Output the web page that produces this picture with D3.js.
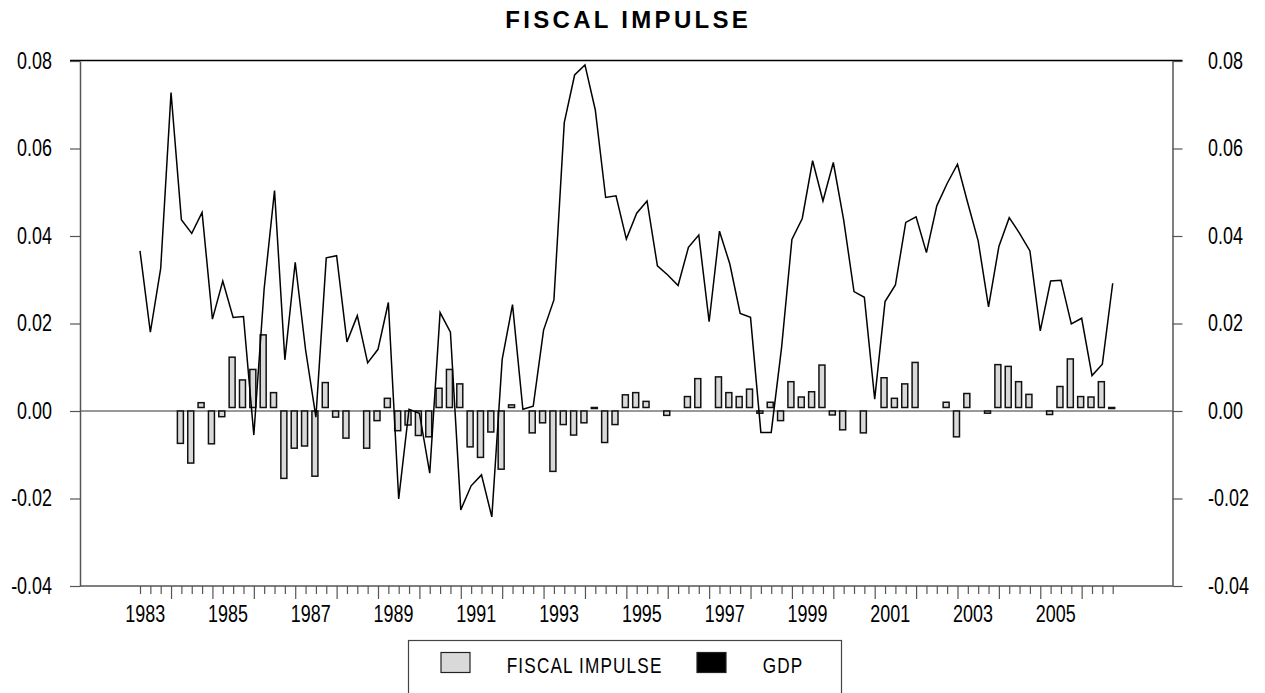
<!DOCTYPE html>
<html>
<head>
<meta charset="utf-8">
<script src="https://cdn.jsdelivr.net/npm/d3@7"></script>
<style>
  body { margin: 0; background: #fff; }
  svg { display: block; font-family: "Liberation Sans", Arial, sans-serif; }
</style>
</head>
<body>
<svg id="chart" width="1265" height="693"></svg>
<script>
// fiscal impulse (bars) against GDP (line), quarterly 1983Q1 - 2006Q3

var years = [1983, 1984, 1985, 1986, 1987, 1988, 1989, 1990, 1991, 1992, 1993, 1994,
  1995, 1996, 1997, 1998, 1999, 2000, 2001, 2002, 2003, 2004, 2005, 2006];
var labelYears = [1983, 1985, 1987, 1989, 1991, 1993, 1995, 1997, 1999, 2001, 2003, 2005];
var quarters = years.flatMap(function(y){ return ['Q1', 'Q2', 'Q3', 'Q4'].map(function(q){ return y + q; }); }).slice(0, 95);
var yTicks = [-0.04, -0.02, 0.00, 0.02, 0.04, 0.06, 0.08];

var gdp = [
  0.0366, 0.0180, 0.0326, 0.0728, 0.0437, 0.0406, 0.0454, 0.0210, 0.0297, 0.0214,
  0.0216, -0.0055, 0.0280, 0.0504, 0.0117, 0.0340, 0.0140, -0.0014, 0.0350, 0.0355,
  0.0158, 0.0218, 0.0110, 0.0141, 0.0248, -0.0201, 0.0004, -0.0005, -0.0142, 0.0225,
  0.0180, -0.0226, -0.0171, -0.0146, -0.0242, 0.0118, 0.0243, 0.0004, 0.0011, 0.0185,
  0.0254, 0.0659, 0.0768, 0.0791, 0.0688, 0.0488, 0.0492, 0.0393, 0.0452, 0.0480,
  0.0332, 0.0311, 0.0287, 0.0374, 0.0402, 0.0204, 0.0411, 0.0336, 0.0223, 0.0214,
  -0.0049, -0.0049, 0.0145, 0.0392, 0.0440, 0.0572, 0.0480, 0.0568, 0.0437, 0.0273,
  0.0260, 0.0027, 0.0250, 0.0288, 0.0431, 0.0444, 0.0362, 0.0469, 0.0520, 0.0564,
  0.0475, 0.0389, 0.0238, 0.0376, 0.0442, 0.0406, 0.0366, 0.0183, 0.0297, 0.0299,
  0.0199, 0.0212, 0.0081, 0.0107, 0.0292
];

var impulse = [
  null, null, null, null, -0.0074, -0.0119, 0.0019, -0.0075, -0.0013, 0.0123,
  0.0071, 0.0095, 0.0174, 0.0042, -0.0154, -0.0085, -0.0080, -0.0149, 0.0065, -0.0014,
  -0.0062, 0, -0.0085, -0.0022, 0.0029, -0.0045, -0.0032, -0.0056, -0.0059, 0.0052,
  0.0095, 0.0062, -0.0082, -0.0106, -0.0048, -0.0133, 0.0014, 0, -0.0050, -0.0027,
  -0.0138, -0.0031, -0.0055, -0.0027, 0.0008, -0.0072, -0.0031, 0.0037, 0.0042, 0.0022,
  0, -0.0010, 0, 0.0033, 0.0074, 0, 0.0078, 0.0042, 0.0033, 0.0050,
  -0.0005, 0.0020, -0.0022, 0.0067, 0.0032, 0.0044, 0.0105, -0.0009, -0.0043, 0,
  -0.0050, 0, 0.0076, 0.0029, 0.0062, 0.0111, 0, 0, 0.0020, -0.0059,
  0.0040, 0, -0.0005, 0.0106, 0.0102, 0.0067, 0.0038, 0, -0.0008, 0.0056,
  0.0119, 0.0033, 0.0032, 0.0067, 0.0008
];

(function(){
  var svg = d3.select('#chart');
  var plotLeft = 80, plotRight = 1172.5, plotTop = 61, plotBottom = 586;
  var squeeze = 0.78; // narrow glyphs like the original
  var font = '"Liberation Sans", Arial, sans-serif';
  var fmt = function(d){ return d3.format('.2f')(d).replace('\u2212', '-'); };

  var x = d3.scalePoint().domain(quarters).range([140, 1112.7]);
  var step = x.step();
  var xYear = d3.scaleBand().domain(years)
    .range([140 - 1.5 * step, 140 - 1.5 * step + years.length * 4 * step]);
  var y = d3.scaleLinear().domain([-0.04, 0.08]).range([plotBottom, plotTop]);

  var axisColor = '#555';

  // frame top
  svg.append('line')
    .attr('x1', plotLeft - 10).attr('x2', plotRight + 10)
    .attr('y1', plotTop - 0.5).attr('y2', plotTop - 0.5)
    .attr('stroke', '#000').attr('stroke-width', 1.5);

  // zero line
  svg.append('line')
    .attr('x1', plotLeft).attr('x2', plotRight).attr('y1', y(0)).attr('y2', y(0))
    .attr('stroke', '#333').attr('stroke-width', 1);

  // bars
  var bw = 6;
  svg.append('g').selectAll('rect')
    .data(quarters.map(function(q, i){ return {q: q, v: impulse[i]}; }).filter(function(d){ return d.v; }))
    .enter()
    .append('rect')
    .attr('x', function(d){ return x(d.q) - bw / 2 - 1; })
    .attr('y', function(d){ return d.v > 0 ? y(d.v) : y(0); })
    .attr('width', bw)
    .attr('height', function(d){
      return d.v > 0 ? Math.max(1, y(0) - 3.5 - y(d.v)) : Math.max(1, y(d.v) - y(0));
    })
    .attr('fill', '#d9d9d9')
    .attr('stroke', '#111')
    .attr('stroke-width', 1.5);

  // gdp line
  var line = d3.line()
    .x(function(d, i){ return x(quarters[i]); })
    .y(function(d){ return y(d); });
  svg.append('path')
    .datum(gdp)
    .attr('d', line)
    .attr('fill', 'none')
    .attr('stroke', '#000')
    .attr('stroke-width', 1.5)
    .attr('stroke-linejoin', 'miter');

  // y axes
  function styleAxis(g){
    g.select('.domain').attr('stroke', axisColor).attr('stroke-width', 1.5);
    g.selectAll('.tick line').attr('stroke', axisColor).attr('stroke-width', 1.2);
    g.selectAll('text').attr('fill', '#000').attr('font-size', 23).attr('font-family', font);
  }
  var yLeft = svg.append('g')
    .attr('transform', 'translate(' + plotLeft + ',0)')
    .call(d3.axisLeft(y).tickValues(yTicks).tickSize(10).tickSizeOuter(0).tickFormat(fmt));
  styleAxis(yLeft);
  yLeft.selectAll('text').attr('x', -28 / squeeze).attr('transform', 'scale(' + squeeze + ',1)');

  var yRight = svg.append('g')
    .attr('transform', 'translate(' + plotRight + ',0)')
    .call(d3.axisRight(y).tickValues(yTicks).tickSize(10).tickSizeOuter(0).tickFormat(fmt));
  styleAxis(yRight);
  yRight.selectAll('text').attr('x', 35.5 / squeeze).attr('transform', 'scale(' + squeeze + ',1)');

  // x axis: quarter ticks, longer on Q4
  var xAxisG = svg.append('g')
    .attr('transform', 'translate(0,' + plotBottom + ')')
    .call(d3.axisBottom(x).tickSize(8).tickFormat(''));
  xAxisG.select('.domain').remove();
  xAxisG.selectAll('.tick line')
    .attr('stroke', axisColor).attr('stroke-width', 1.2)
    .attr('y2', function(d){ return /Q4$/.test(d) ? 13 : 8; });
  svg.append('line')
    .attr('x1', plotLeft).attr('x2', plotRight).attr('y1', plotBottom).attr('y2', plotBottom)
    .attr('stroke', axisColor).attr('stroke-width', 1.5);

  // year labels
  var yearAxis = svg.append('g')
    .attr('transform', 'translate(0,' + plotBottom + ')')
    .call(d3.axisBottom(xYear).tickValues(labelYears).tickSize(0).tickPadding(20));
  yearAxis.select('.domain').remove();
  yearAxis.selectAll('text')
    .attr('font-size', 23).attr('fill', '#000').attr('font-family', font)
    .attr('transform', 'scale(' + squeeze + ',1)')
    .attr('x', 0);
  yearAxis.selectAll('.tick').each(function(d){
    var tx = xYear(d) + xYear.bandwidth() / 2;
    d3.select(this).attr('transform', 'translate(' + tx + ',0)');
  });

  // title
  svg.append('text')
    .attr('x', (plotLeft + plotRight) / 2 + 2)
    .attr('y', 28)
    .attr('text-anchor', 'middle')
    .attr('font-size', 24)
    .attr('font-weight', 'bold')
    .attr('letter-spacing', '3.3px')
    .text('FISCAL IMPULSE');

  // legend
  var legend = svg.append('g');
  legend.append('rect')
    .attr('x', 408.5).attr('y', 640.5).attr('width', 433).attr('height', 70)
    .attr('fill', '#fff').attr('stroke', '#444').attr('stroke-width', 1.2);
  var items = [
    {name: 'FISCAL IMPULSE', fill: '#d9d9d9', sx: 441, tx: 506.7},
    {name: 'GDP', fill: '#000', sx: 697, tx: 762.7}
  ];
  items.forEach(function(it){
    legend.append('rect')
      .attr('x', it.sx).attr('y', 652.5).attr('width', 29).attr('height', 20)
      .attr('fill', it.fill).attr('stroke', '#222').attr('stroke-width', 1.2);
    legend.append('text')
      .attr('transform', 'translate(' + it.tx + ',673) scale(' + squeeze + ',1)')
      .attr('font-size', 22)
      .attr('letter-spacing', '1.5px')
      .text(it.name);
  });
})();
</script>
</body>
</html>
